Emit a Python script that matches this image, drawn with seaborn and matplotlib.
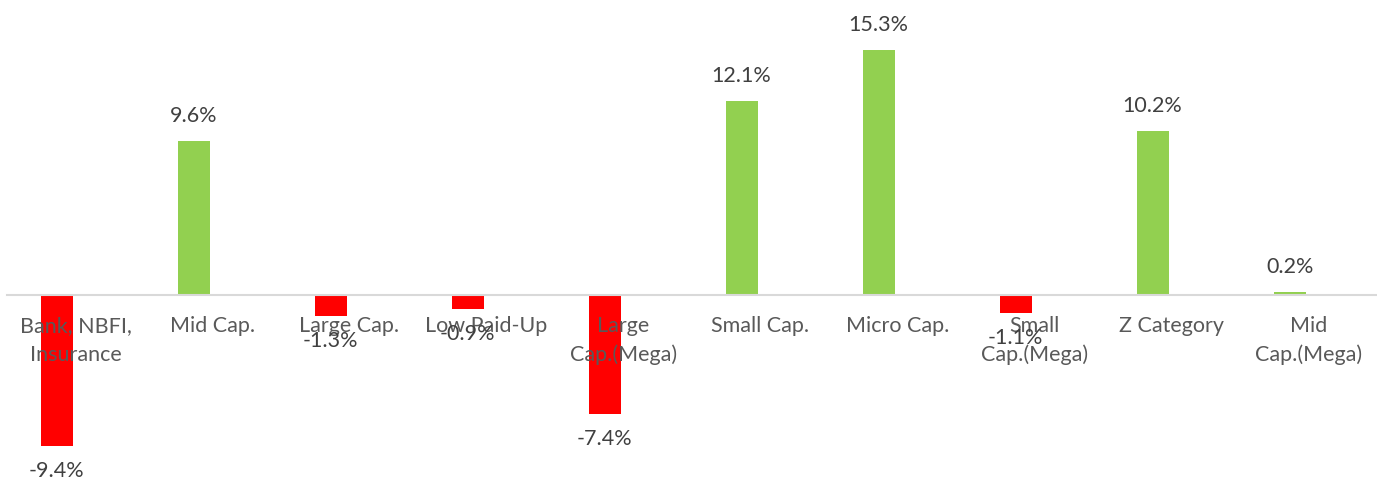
import pandas as pd
import matplotlib
matplotlib.use("Agg")
import matplotlib.pyplot as plt
import seaborn as sns

# Data (percent change)
categories = ["Bank, NBFI,\nInsurance", "Mid Cap.", "Large Cap.", "Low Paid-Up",
              "Large\nCap.(Mega)", "Small Cap.", "Micro Cap.", "Small\nCap.(Mega)",
              "Z Category", "Mid\nCap.(Mega)"]
returns = [-9.4, 9.6, -1.3, -0.9, -7.4, 12.1, 15.3, -1.1, 10.2, 0.2]
blank = [0.0] * len(returns)  # empty second series, like the Excel chart

df = pd.DataFrame({
    "category": categories * 2,
    "value": returns + blank,
    "series": ["change"] * len(returns) + ["blank"] * len(blank),
})

sns.set_theme(style="white")
plt.rcParams["font.family"] = ["Lato", "DejaVu Sans"]

fig = plt.figure(figsize=(13.77, 4.82), dpi=100)
ax = fig.add_axes([7 / 1377, 0, 1 - 7 / 1377, 1])

sns.barplot(data=df, x="category", y="value", hue="series", order=categories,
            hue_order=["change", "blank"], width=0.55, gap=0.15, dodge=True,
            saturation=1, linewidth=0, legend=False, ax=ax)

# colour by sign
bars = ax.containers[0]
for bar, v in zip(bars, returns):
    bar.set_facecolor("#FF0000" if v < 0 else "#92D050")

# value labels
for bar, v in zip(bars, returns):
    xc = bar.get_x() + bar.get_width() / 2
    off = 18 if v >= 0 else -18
    ax.annotate(f"{v:.1f}%", (xc, v), xytext=(0, off), textcoords="offset points",
                ha="center", va="center", fontsize=15.5, color="#404040", zorder=5)

ax.set_ylim(-11.67, 18.4)
ax.set_xlim(-0.5, len(categories) - 0.5)
for s in ["top", "right", "left"]:
    ax.spines[s].set_visible(False)
ax.spines["bottom"].set_position(("data", 0))
ax.spines["bottom"].set_color("#D9D9D9")
ax.spines["bottom"].set_linewidth(1.5)
ax.set_axisbelow(False)
ax.set_yticks([])
ax.set_xlabel("")
ax.set_ylabel("")
ax.tick_params(axis="x", length=0, pad=15, labelsize=15.5, labelcolor="#595959")
for lab in ax.get_xticklabels():
    lab.set_linespacing(1.55)

fig.savefig("out.png", dpi=100, facecolor="white")
